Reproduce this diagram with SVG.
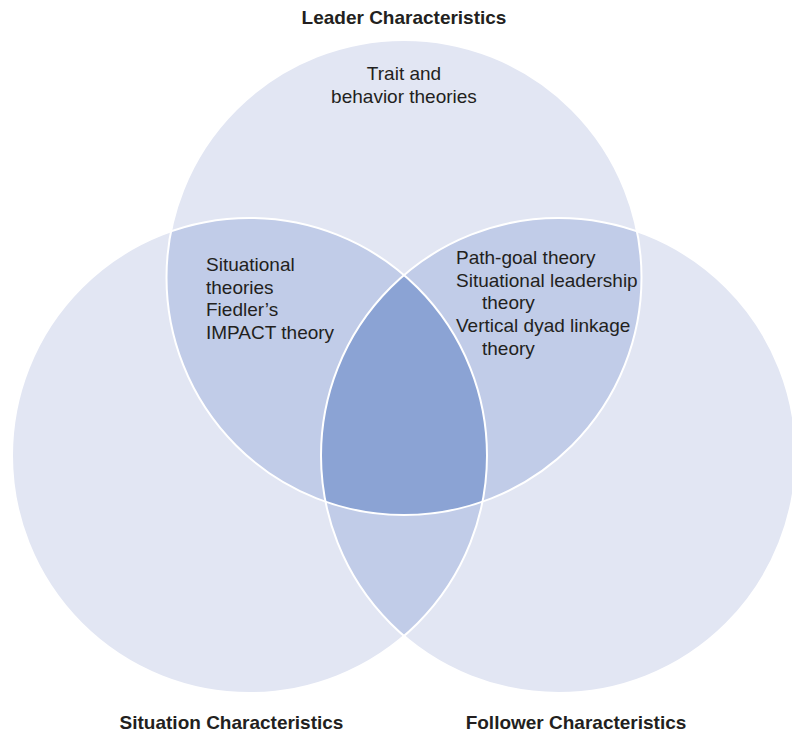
<svg xmlns="http://www.w3.org/2000/svg" width="792" height="732" viewBox="0 0 792 732">
<style>
.c{fill:#E2E6F3}
.m{fill:#C1CCE8}
.d{fill:#8BA3D4}
.o{fill:none;stroke:#FFFFFF;stroke-width:2}
.t{font-family:"Liberation Sans",Arial,sans-serif;font-size:19px;fill:#231F20}
.h{font-family:"Liberation Sans",Arial,sans-serif;font-size:19px;font-weight:bold;fill:#231F20}
</style>
<defs>
<clipPath id="clipTop"><circle cx="404" cy="277.5" r="237.5"/></clipPath>
<clipPath id="clipLeft"><circle cx="249.5" cy="455.5" r="237.5"/></clipPath>
<clipPath id="clipRight"><circle cx="558.5" cy="455.5" r="237.5"/></clipPath>
</defs>
<rect width="792" height="732" fill="#FFFFFF"/>
<g id="circle-leader"><circle class="c" cx="404" cy="277.5" r="237.5"/></g>
<g id="circle-situation"><circle class="c" cx="249.5" cy="455.5" r="237.5"/></g>
<g id="circle-follower"><circle class="c" cx="558.5" cy="455.5" r="237.5"/></g>
<g id="overlap-leader-situation" clip-path="url(#clipTop)"><circle class="m" cx="249.5" cy="455.5" r="237.5"/></g>
<g id="overlap-leader-follower" clip-path="url(#clipTop)"><circle class="m" cx="558.5" cy="455.5" r="237.5"/></g>
<g id="overlap-situation-follower" clip-path="url(#clipLeft)"><circle class="m" cx="558.5" cy="455.5" r="237.5"/></g>
<g id="overlap-all" clip-path="url(#clipTop)"><g clip-path="url(#clipLeft)"><circle class="d" cx="558.5" cy="455.5" r="237.5"/></g></g>
<g id="outlines">
<circle class="o" cx="404" cy="277.5" r="237.5"/>
<circle class="o" cx="249.5" cy="455.5" r="237.5"/>
<circle class="o" cx="558.5" cy="455.5" r="237.5"/>
</g>
<g id="labels">
<text class="h" x="404" y="24" text-anchor="middle">Leader Characteristics</text>
<text class="h" x="231.5" y="729" text-anchor="middle">Situation Characteristics</text>
<text class="h" x="576" y="729" text-anchor="middle">Follower Characteristics</text>
</g>
<g id="text-leader">
<text class="t" x="404" y="80" text-anchor="middle">Trait and</text>
<text class="t" x="404" y="103" text-anchor="middle">behavior theories</text>
</g>
<g id="text-leader-situation">
<text class="t" x="206" y="271">Situational</text>
<text class="t" x="206" y="294">theories</text>
<text class="t" x="206" y="316">Fiedler’s</text>
<text class="t" x="206" y="339">IMPACT theory</text>
</g>
<g id="text-leader-follower">
<text class="t" x="456" y="264">Path-goal theory</text>
<text class="t" x="456" y="287">Situational leadership</text>
<text class="t" x="482" y="309">theory</text>
<text class="t" x="456" y="332">Vertical dyad linkage</text>
<text class="t" x="482" y="355">theory</text>
</g>
</svg>
